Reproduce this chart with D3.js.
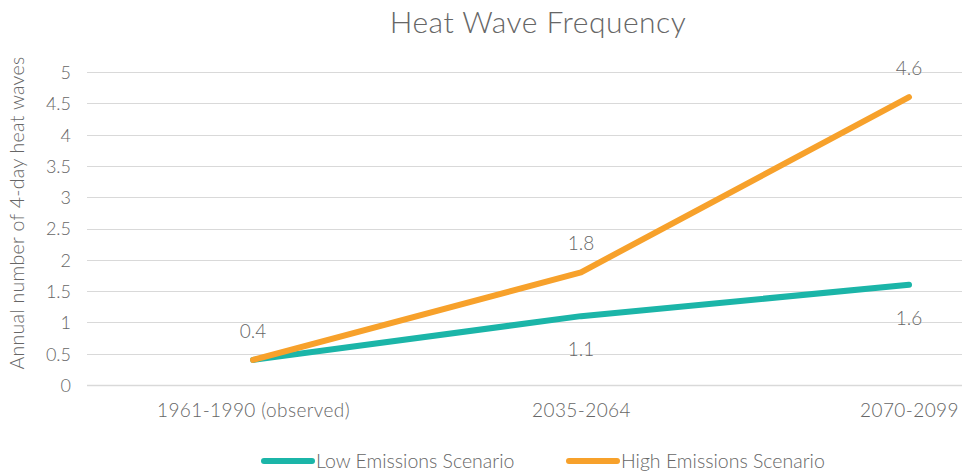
<!DOCTYPE html>
<html>
<head>
<meta charset="utf-8">
<script src="https://cdn.jsdelivr.net/npm/d3@7"></script>
<style>
  body { margin: 0; background: #fff; }
  text { font-family: Lato, "Open Sans", sans-serif; font-weight: 300; fill: #666666; }
</style>
</head>
<body>
<script>
// chart data
let periods = ["1961-1990 (observed)", "2035-2064", "2070-2099"];
let lowEmissions = [0.4, 1.1, 1.6];
let highEmissions = [0.4, 1.8, 4.6];
let yTicks = [0, 0.5, 1, 1.5, 2, 2.5, 3, 3.5, 4, 4.5, 5];
let seriesNames = ["Low Emissions Scenario", "High Emissions Scenario"];
let seriesColors = ["#1bb5a8", "#f7a12b"];

window.onload = function() {
    main();
};

function main() {
    let w = 962, h = 476;
    let plot = {left: 87, right: 962, top: 72, bottom: 385};

    let svg = d3.select("body")
                .append("svg")
                .attr("width", w)
                .attr("height", h);

    // the plot area of the original runs past the right edge of the picture
    let x = d3.scalePoint()
              .domain(periods)
              .range([253, 909])
              .padding(0);

    let y = d3.scaleLinear()
              .domain([0, 5])
              .range([plot.bottom, plot.top]);

    // gridlines
    svg.append("g")
       .selectAll("line")
       .data(yTicks)
       .enter()
       .append("line")
       .attr("x1", plot.left)
       .attr("x2", plot.right)
       .attr("y1", d => Math.round(y(d)) + 0.5)
       .attr("y2", d => Math.round(y(d)) + 0.5)
       .style("stroke", "#d9d9d9")
       .style("stroke-width", d => d === 0 ? 1.6 : 1);

    // y axis labels
    let yAxis = d3.axisLeft(y)
                  .tickValues(yTicks)
                  .tickSize(0)
                  .tickPadding(0)
                  .tickFormat(d => d);
    let gy = svg.append("g")
                .attr("transform", "translate(71,0)")
                .call(yAxis);
    gy.select(".domain").remove();
    gy.selectAll("text")
      .attr("dy", "0.36em")
      .style("font-size", "18px")
      .style("font-family", "Lato, 'Open Sans', sans-serif")
      .style("font-weight", 300)
      .style("fill", "#666666");

    // x axis labels
    let xAxis = d3.axisBottom(x).tickSize(0).tickPadding(0);
    let gx = svg.append("g")
                .attr("transform", "translate(0,0)")
                .call(xAxis);
    gx.select(".domain").remove();
    gx.selectAll("text")
      .attr("y", 417)
      .attr("dy", null)
      .style("font-size", "19px")
      .style("letter-spacing", "0.4px")
      .style("font-family", "Lato, 'Open Sans', sans-serif")
      .style("font-weight", 300)
      .style("fill", "#666666");

    // lines
    let line = d3.line()
                 .x((d, i) => x(periods[i]))
                 .y(d => y(d));

    [lowEmissions, highEmissions].forEach(function(values, k) {
        svg.append("path")
           .datum(values)
           .attr("d", line)
           .style("fill", "none")
           .style("stroke", seriesColors[k])
           .style("stroke-width", 6)
           .style("stroke-linecap", "round")
           .style("stroke-linejoin", "round");
    });

    // data labels: low series below the point, high series above
    svg.append("g")
       .selectAll("text")
       .data(lowEmissions.slice(1))
       .enter()
       .append("text")
       .attr("x", (d, i) => x(periods[i + 1]))
       .attr("y", d => y(d) + 40)
       .attr("text-anchor", "middle")
       .style("font-size", "19px")
       .text(d => d);

    svg.append("g")
       .selectAll("text")
       .data(highEmissions)
       .enter()
       .append("text")
       .attr("x", (d, i) => x(periods[i]))
       .attr("y", d => y(d) - 22)
       .attr("text-anchor", "middle")
       .style("font-size", "19px")
       .text(d => d);

    // title
    svg.append("text")
       .attr("x", 538)
       .attr("y", 33)
       .attr("text-anchor", "middle")
       .style("font-size", "30px")
       .style("letter-spacing", "0.5px")
       .text("Heat Wave Frequency");

    // y axis title
    svg.append("text")
       .attr("transform", "translate(24,213) rotate(-90)")
       .attr("text-anchor", "middle")
       .style("font-size", "19.5px")
       .style("letter-spacing", "0.3px")
       .text("Annual number of 4-day heat waves");

    // legend
    let legendX = [262, 567];
    let legend = svg.append("g")
                    .selectAll("g")
                    .data(seriesNames)
                    .enter()
                    .append("g")
                    .attr("transform", (d, i) => "translate(" + legendX[i] + ",461)");
    legend.append("line")
          .attr("x1", 2)
          .attr("x2", 50)
          .style("stroke", (d, i) => seriesColors[i])
          .style("stroke-width", 6)
          .style("stroke-linecap", "round");
    legend.append("text")
          .attr("x", 54)
          .attr("y", 7)
          .style("font-size", "19.5px")
          .text(d => d);
}
</script>
</body>
</html>
